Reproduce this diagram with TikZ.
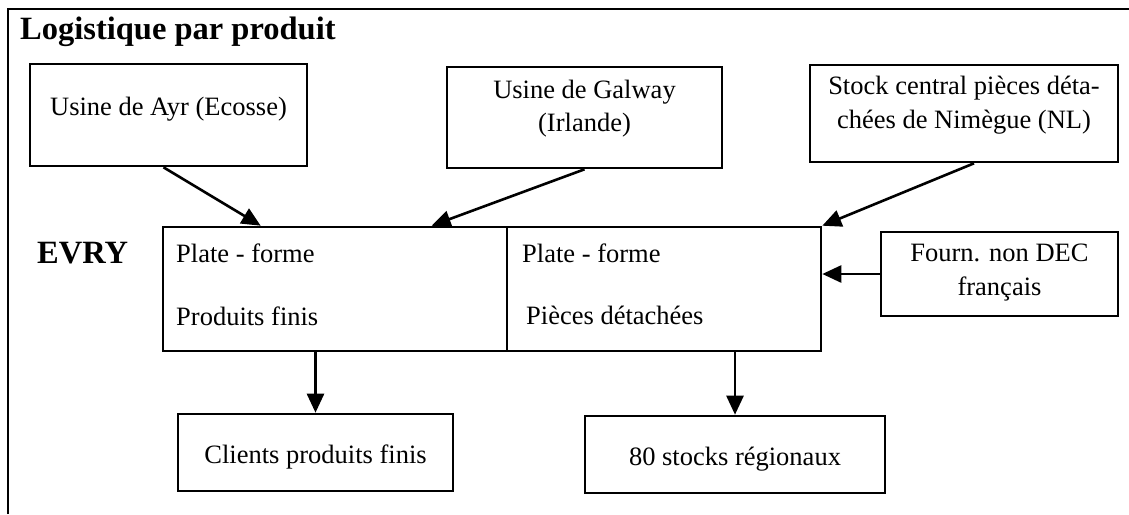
\documentclass[tikz,border=0pt]{standalone}
\usepackage{fontspec}
\setmainfont{Liberation Serif}
\usetikzlibrary{arrows.meta,calc}
\tikzset{
  box/.style={draw,line width=2.6pt,inner sep=0pt},
  txt/.style={inner sep=0pt,anchor=base,font=\fontsize{26.5}{33}\selectfont},
  txtl/.style={txt,anchor=base west},
  head/.style={inner sep=0pt,anchor=base west,font=\fontsize{32.5}{38}\selectfont\bfseries},
  arr/.style={line width=2.6pt,-{Triangle[length=19pt,width=17pt]}},
  frame/.style={line width=2.4pt}
}
\begin{document}
\begin{tikzpicture}[x=1pt,y=-1pt]
\useasboundingbox (0,0) rectangle (1129,514);
% frame (left and top)
\coordinate (fbl) at (8,514);
\coordinate (ftl) at (8,9);
\coordinate (ftr) at (1129,9);
\draw[frame] (fbl) -- (ftl) -- (ftr);
\node[head] (title) at (20,39) {Logistique par produit};
\node[head] (evry) at (37,263) {EVRY};
% boxes
\node[box,minimum width=277pt,minimum height=102pt] (ayr) at (168.5,115) {};
\node[box,minimum width=275pt,minimum height=101pt] (galway) at (584.5,117.5) {};
\node[box,minimum width=308pt,minimum height=97pt] (stock) at (964,113.5) {};
\node[box,minimum width=344pt,minimum height=124pt] (pf) at (335,289) {};
\node[box,minimum width=314pt,minimum height=124pt] (pd) at (664,289) {};
\node[box,minimum width=237pt,minimum height=84pt] (fourn) at (999.5,274) {};
\node[box,minimum width=275pt,minimum height=77pt] (clients) at (315.5,452.5) {};
\node[box,minimum width=300pt,minimum height=77pt] (stocks) at (735,454.5) {};
% texts
\node[txt] (tayr) at (168.5,115) {Usine de Ayr (Ecosse)};
\node[txt] (tgal1) at (584.5,98) {Usine de Galway};
\node[txt] (tgal2) at (584.5,131) {(Irlande)};
\node[txt] (tsto1) at (964,94) {Stock central pièces déta-};
\node[txt] (tsto2) at (964,128) {chées de Nimègue (NL)};
\node[txtl] (tpf1) at (176,262) {Plate - forme};
\node[txtl] (tpf2) at (176,325) {Produits finis};
\node[txtl] (tpd1) at (522,262) {Plate - forme};
\node[txtl] (tpd2) at (526,324) {Pièces détachées};
\node[txt] (tfo1) at (999.5,261) {Fourn. non DEC};
\node[txt] (tfo2) at (999.5,295) {français};
\node[txt] (tcli) at (315.5,463) {Clients produits finis};
\node[txt] (tsts) at (735,465) {80 stocks régionaux};
% connectors
\draw[arr] ([xshift=-5pt]ayr.south) -- ($(pf.north west)+(99,0)$);
\draw[arr] (galway.south) -- ($(pf.north west)+(270,0)$);
\draw[arr] ([xshift=10pt]stock.south) -- (pd.north east);
\draw[arr] (fourn.west) -- (fourn.west -| pd.east);
\draw[arr] (clients.north |- pf.south) -- (clients.north);
\draw[arr] (stocks.north |- pd.south) -- (stocks.north);
\end{tikzpicture}
\end{document}
